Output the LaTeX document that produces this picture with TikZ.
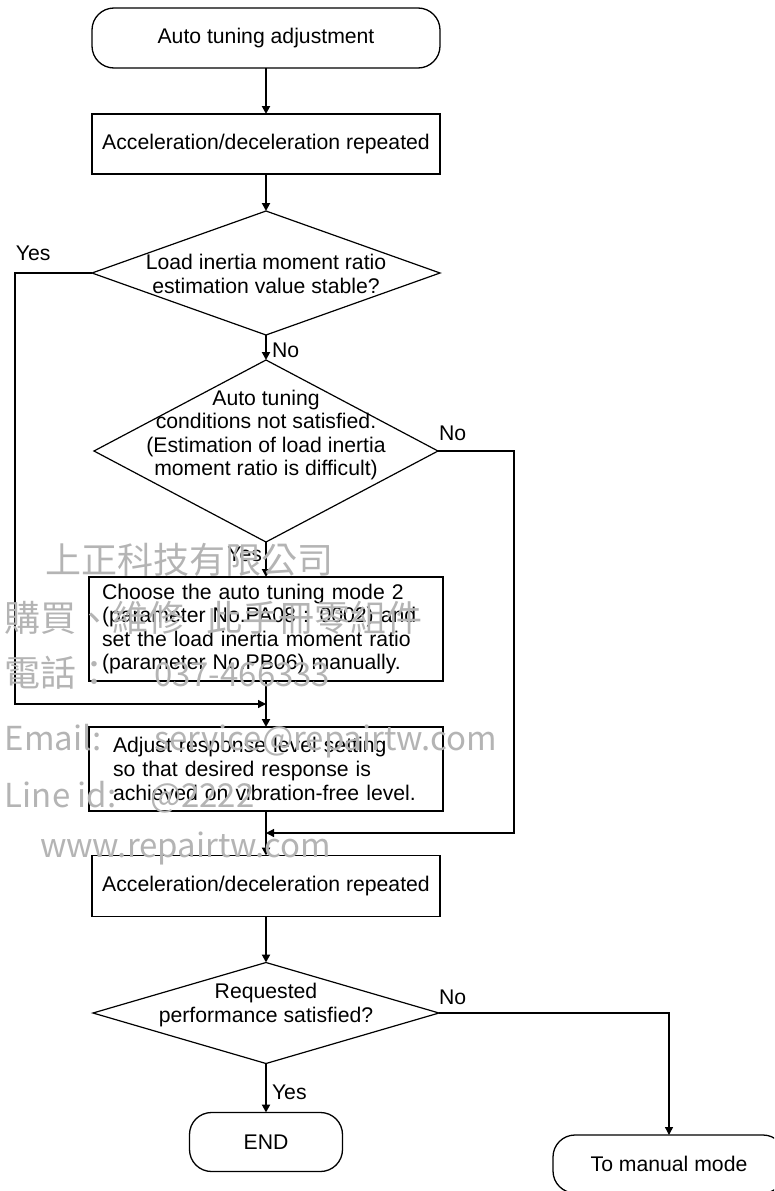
\documentclass[tikz,border=0pt]{standalone}
\usepackage{fontspec}
\setmainfont{Liberation Sans}
\newfontfamily\wmfont{Noto Sans CJK TC}
\usetikzlibrary{shapes.geometric,arrows.meta}
\definecolor{wmgray}{RGB}{180,180,180}
\begin{document}
\begin{tikzpicture}[x=1pt,y=-1pt,
  every node/.style={font=\fontsize{21.2}{23.6}\selectfont, inner sep=0pt, outer sep=0pt},
  procbox/.style={draw, line width=1.3pt},
  termbox/.style={draw, line width=1.3pt, rounded corners=22pt},
  decis/.style={draw, diamond, line width=1.2pt},
  tip/.style={-{Triangle[length=8pt,width=8pt]}},
  flow/.style={line width=2pt, tip},
  side/.style={line width=1.3pt},
  wm/.style={text=wmgray, font=\wmfont\fontsize{36}{36}\selectfont, anchor=base west},
  wml/.style={wm, font=\wmfont\fontsize{33}{33}\selectfont}
]
\useasboundingbox (0,0) rectangle (774,1191);
\clip (0,0) rectangle (774,1191);

% main nodes
\node[termbox, minimum width=348pt, minimum height=60pt] (start) at (266,38) {Auto tuning adjustment};
\node[procbox, minimum width=348pt, minimum height=60pt] (acc1) at (266,144) {Acceleration/deceleration repeated};
\node[decis, minimum width=348pt, minimum height=124pt] (d1) at (266,273) {};
\node[align=center] (d1t) at (266,274) {Load inertia moment ratio\\estimation value stable?};
\node[decis, minimum width=344pt, minimum height=182pt] (d2) at (266,451) {};
\node[align=center] (d2t) at (266,435) {Auto tuning\\conditions not satisfied.\\(Estimation of load inertia\\moment ratio is difficult)};
\node[procbox, minimum width=354pt, minimum height=104pt, text width=328pt, align=left] (choose) at (266,629)
  {Choose the auto tuning mode 2\\(parameter No.PA08 : 0002) and\\set the load inertia moment ratio\\(parameter No.PB06) manually.};
\node[procbox, minimum width=354pt, minimum height=84pt, text width=306pt, align=left] (adj) at (266,769)
  {Adjust response level setting\\so that desired response is\\achieved on vibration-free level.};
\node[procbox, minimum width=348pt, minimum height=61pt] (acc2) at (266,886) {Acceleration/deceleration repeated};
\node[decis, minimum width=346pt, minimum height=101pt] (d3) at (266,1013) {};
\node[align=center] (d3t) at (266,1005) {Requested\\performance satisfied?};
\node[termbox, minimum width=153pt, minimum height=59pt] (endn) at (266,1142) {END};
\node[termbox, minimum width=232pt, minimum height=58pt] (manual) at (669,1164) {To manual mode};

% junctions and corners
\coordinate (lx) at (15,273);
\coordinate (j1) at (266,704);
\coordinate (rx) at (514,451);
\coordinate (j2) at (266,833);

% connectors
\draw[flow] (start.south) -- (acc1.north);
\draw[flow] (acc1.south) -- (d1.north);
\draw[flow] (d1.south) -- (d2.north);
\draw[flow] (d2.south) -- (choose.north);
\draw[flow] (choose.south) -- (adj.north);
\draw[flow] (adj.south) -- (acc2.north);
\draw[flow] (acc2.south) -- (d3.north);
\draw[flow] (d3.south) -- (endn.north);
\draw[side, tip] (d1.west) -- (lx) |- (j1);
\draw[side, tip] (d2.east) -- (rx) |- (j2);
\draw[side, tip] (d3.east) -| (manual.north);

% branch labels
\node[anchor=west] (ly1) at (16,253) {Yes};
\node[anchor=west] (ln1) at (272,350) {No};
\node[anchor=west] (ln2) at (439,433) {No};
\node[anchor=east] (ly2) at (262,554) {Yes};
\node[anchor=west] (ln3) at (439,997) {No};
\node[anchor=west] (ly3) at (272,1092) {Yes};

% watermark
\node[wm] (w1) at (45,573) {上正科技有限公司};
\node[wm] (w2) at (5,631) {購買、維修\hspace{22pt}此手冊零組件};
\node[wm] (w3a) at (5,686) {電話：};
\node[wml] (w3b) at (154,686) {037-466333};
\node[wml] (w4a) at (5,750) {Email:};
\node[wml] (w4b) at (154,750) {service@repairtw.com};
\node[wml] (w5a) at (5,807) {Line id:};
\node[wml] (w5b) at (150,807) {@2222};
\node[wml] (w6) at (40,857) {www.repairtw.com};
\end{tikzpicture}
\end{document}
